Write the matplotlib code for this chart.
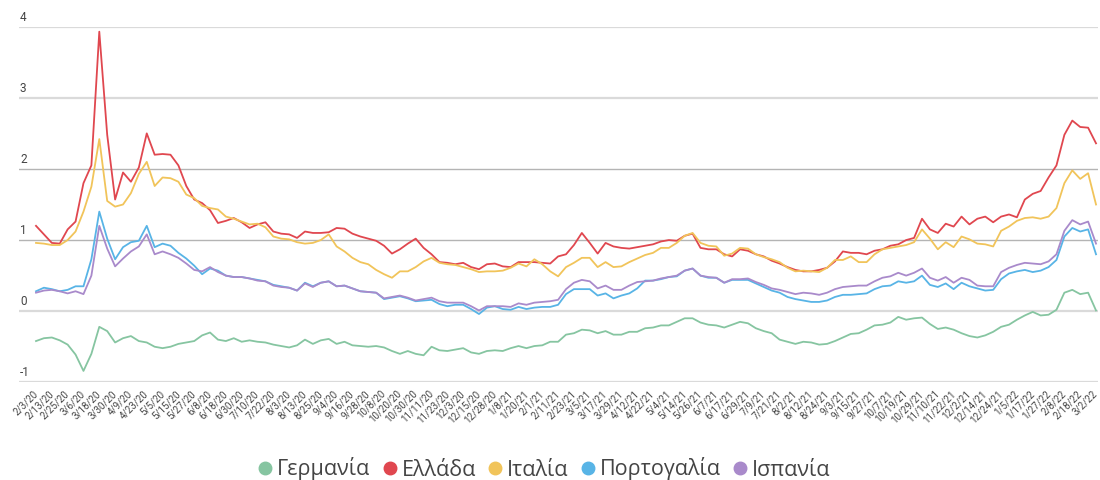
import numpy as np
import matplotlib
matplotlib.use("Agg")
import matplotlib.pyplot as plt
from matplotlib.lines import Line2D

# 10-year bond yields, one reading every 4 trading days (2/3/20 .. 3/2/22)
germany = [-0.42, -0.38, -0.37, -0.41, -0.47, -0.61, -0.84, -0.60, -0.22, -0.28,
           -0.44, -0.38, -0.35, -0.42, -0.44, -0.50, -0.52, -0.50, -0.46, -0.44,
           -0.42, -0.34, -0.30, -0.40, -0.42, -0.38, -0.43, -0.41, -0.43, -0.44,
           -0.47, -0.49, -0.51, -0.48, -0.40, -0.46, -0.41, -0.39, -0.46, -0.43,
           -0.48, -0.49, -0.50, -0.49, -0.51, -0.56, -0.60, -0.56, -0.60, -0.62,
           -0.50, -0.55, -0.56, -0.54, -0.52, -0.58, -0.60, -0.56, -0.55, -0.56,
           -0.52, -0.49, -0.52, -0.49, -0.48, -0.43, -0.43, -0.33, -0.31, -0.26,
           -0.27, -0.31, -0.28, -0.33, -0.33, -0.29, -0.29, -0.24, -0.23, -0.20,
           -0.20, -0.15, -0.10, -0.10, -0.16, -0.19, -0.20, -0.23, -0.19, -0.15,
           -0.17, -0.24, -0.28, -0.31, -0.40, -0.43, -0.46, -0.43, -0.44, -0.47,
           -0.46, -0.42, -0.37, -0.32, -0.31, -0.26, -0.20, -0.19, -0.16, -0.08,
           -0.12, -0.10, -0.09, -0.18, -0.25, -0.23, -0.26, -0.31, -0.35, -0.37,
           -0.34, -0.29, -0.22, -0.19, -0.12, -0.06, -0.01, -0.06, -0.05, 0.02,
           0.26, 0.30, 0.24, 0.26, 0.01]

greece = [1.20, 1.08, 0.96, 0.95, 1.15, 1.26, 1.80, 2.05, 3.93, 2.48,
          1.57, 1.95, 1.82, 2.02, 2.50, 2.20, 2.21, 2.20, 2.05, 1.76,
          1.57, 1.52, 1.42, 1.24, 1.27, 1.31, 1.25, 1.17, 1.22, 1.25,
          1.12, 1.09, 1.08, 1.03, 1.12, 1.10, 1.10, 1.11, 1.17, 1.16,
          1.09, 1.05, 1.02, 0.99, 0.92, 0.81, 0.87, 0.95, 1.02, 0.89,
          0.80, 0.69, 0.68, 0.66, 0.68, 0.62, 0.59, 0.66, 0.67, 0.63,
          0.62, 0.69, 0.69, 0.69, 0.68, 0.67, 0.77, 0.80, 0.93, 1.10,
          0.96, 0.81, 0.96, 0.91, 0.89, 0.88, 0.90, 0.92, 0.94, 0.98,
          1.00, 0.99, 1.06, 1.09, 0.89, 0.87, 0.87, 0.80, 0.77, 0.87,
          0.85, 0.80, 0.77, 0.71, 0.67, 0.62, 0.58, 0.56, 0.56, 0.58,
          0.61, 0.70, 0.84, 0.82, 0.82, 0.80, 0.85, 0.87, 0.92, 0.94,
          1.00, 1.03, 1.30, 1.15, 1.10, 1.23, 1.19, 1.33, 1.22, 1.30,
          1.33, 1.25, 1.33, 1.36, 1.32, 1.57, 1.65, 1.69, 1.88, 2.05,
          2.48, 2.68, 2.59, 2.58, 2.36]

italy = [0.96, 0.95, 0.93, 0.93, 1.00, 1.12, 1.40, 1.75, 2.42, 1.55,
         1.47, 1.50, 1.66, 1.93, 2.10, 1.76, 1.88, 1.87, 1.82, 1.64,
         1.59, 1.48, 1.45, 1.43, 1.33, 1.30, 1.26, 1.22, 1.23, 1.18,
         1.05, 1.02, 1.01, 0.97, 0.95, 0.96, 1.00, 1.08, 0.91, 0.84,
         0.75, 0.69, 0.66, 0.58, 0.52, 0.47, 0.56, 0.56, 0.62, 0.70,
         0.75, 0.68, 0.66, 0.65, 0.62, 0.59, 0.55, 0.56, 0.56, 0.57,
         0.61, 0.67, 0.63, 0.73, 0.66, 0.56, 0.49, 0.62, 0.68, 0.75,
         0.75, 0.62, 0.69, 0.62, 0.63, 0.69, 0.74, 0.79, 0.82, 0.89,
         0.89, 0.96, 1.06, 1.10, 0.96, 0.92, 0.91, 0.78, 0.81, 0.89,
         0.88, 0.80, 0.76, 0.73, 0.69, 0.61, 0.56, 0.57, 0.56, 0.55,
         0.61, 0.72, 0.72, 0.77, 0.69, 0.69, 0.80, 0.87, 0.89, 0.91,
         0.93, 0.97, 1.15, 1.02, 0.87, 0.97, 0.90, 1.05, 1.01, 0.95,
         0.94, 0.91, 1.13, 1.19, 1.27, 1.31, 1.32, 1.30, 1.33, 1.45,
         1.80, 1.98, 1.86, 1.94, 1.50]

portugal = [0.28, 0.33, 0.31, 0.28, 0.30, 0.35, 0.35, 0.73, 1.40, 1.02,
            0.73, 0.90, 0.97, 0.99, 1.20, 0.90, 0.95, 0.92, 0.82, 0.74,
            0.64, 0.52, 0.60, 0.57, 0.50, 0.48, 0.48, 0.46, 0.44, 0.42,
            0.37, 0.35, 0.33, 0.29, 0.40, 0.35, 0.40, 0.42, 0.35, 0.36,
            0.32, 0.28, 0.27, 0.26, 0.17, 0.19, 0.21, 0.18, 0.14, 0.15,
            0.16, 0.10, 0.07, 0.09, 0.09, 0.03, -0.04, 0.05, 0.07, 0.03,
            0.02, 0.06, 0.03, 0.05, 0.06, 0.06, 0.09, 0.24, 0.31, 0.31,
            0.31, 0.22, 0.25, 0.18, 0.22, 0.25, 0.32, 0.43, 0.43, 0.45,
            0.48, 0.49, 0.57, 0.60, 0.50, 0.47, 0.47, 0.40, 0.44, 0.44,
            0.44, 0.39, 0.34, 0.29, 0.26, 0.20, 0.17, 0.15, 0.13, 0.13,
            0.15, 0.20, 0.23, 0.23, 0.24, 0.25, 0.31, 0.35, 0.36, 0.42,
            0.40, 0.42, 0.50, 0.37, 0.34, 0.39, 0.31, 0.40, 0.35, 0.32,
            0.29, 0.30, 0.45, 0.53, 0.56, 0.58, 0.55, 0.57, 0.62, 0.72,
            1.05, 1.17, 1.12, 1.15, 0.80]

spain = [0.26, 0.29, 0.30, 0.28, 0.25, 0.28, 0.24, 0.50, 1.20, 0.88,
         0.63, 0.74, 0.84, 0.91, 1.08, 0.80, 0.84, 0.80, 0.75, 0.67,
         0.58, 0.56, 0.62, 0.55, 0.50, 0.48, 0.48, 0.46, 0.43, 0.42,
         0.36, 0.34, 0.33, 0.29, 0.39, 0.34, 0.40, 0.42, 0.35, 0.36,
         0.32, 0.28, 0.27, 0.26, 0.18, 0.20, 0.22, 0.19, 0.15, 0.17,
         0.19, 0.14, 0.12, 0.12, 0.12, 0.07, 0.01, 0.07, 0.07, 0.07,
         0.06, 0.11, 0.09, 0.12, 0.13, 0.14, 0.16, 0.31, 0.40, 0.44,
         0.42, 0.32, 0.36, 0.30, 0.30, 0.36, 0.41, 0.42, 0.43, 0.46,
         0.48, 0.50, 0.57, 0.60, 0.50, 0.48, 0.47, 0.40, 0.45, 0.45,
         0.46, 0.41, 0.37, 0.32, 0.30, 0.27, 0.24, 0.26, 0.25, 0.23,
         0.26, 0.31, 0.34, 0.35, 0.36, 0.36, 0.42, 0.47, 0.49, 0.54,
         0.50, 0.54, 0.60, 0.47, 0.43, 0.48, 0.40, 0.47, 0.44, 0.36,
         0.35, 0.35, 0.55, 0.61, 0.65, 0.68, 0.67, 0.66, 0.70, 0.80,
         1.13, 1.28, 1.22, 1.26, 0.95]

# x tick labels, one every 8 trading days
tick_labels = ['2/3/20', '2/13/20', '2/25/20', '3/6/20', '3/18/20', '3/30/20', '4/9/20',
               '4/23/20', '5/5/20', '5/15/20', '5/27/20', '6/8/20', '6/18/20', '6/30/20',
               '7/10/20', '7/22/20', '8/3/20', '8/13/20', '8/25/20', '9/4/20', '9/16/20',
               '9/28/20', '10/8/20', '10/20/20', '10/30/20', '11/11/20', '11/23/20',
               '12/3/20', '12/15/20', '12/28/20', '1/8/21', '1/20/21', '2/1/21', '2/11/21',
               '2/23/21', '3/5/21', '3/17/21', '3/29/21', '4/12/21', '4/22/21', '5/4/21',
               '5/14/21', '5/26/21', '6/7/21', '6/17/21', '6/29/21', '7/9/21', '7/21/21',
               '8/2/21', '8/12/21', '8/24/21', '9/3/21', '9/15/21', '9/27/21', '10/7/21',
               '10/19/21', '10/29/21', '11/10/21', '11/22/21', '12/2/21', '12/14/21',
               '12/24/21', '1/5/22', '1/17/22', '1/27/22', '2/8/22', '2/18/22', '3/2/22']

series_names = ['Γερμανία', 'Ελλάδα', 'Ιταλία', 'Πορτογαλία', 'Ισπανία']
series_colors = ['#86c5a1', '#e0474f', '#f1c45a', '#58b4e6', '#a98acb']
y_ticks = [-1, 0, 1, 2, 3, 4]

plt.rcParams['font.family'] = ['Roboto', 'DejaVu Sans']

fig = plt.figure(figsize=(11, 4.8), dpi=100)
ax = fig.add_axes([19 / 1100, (480 - 382.3) / 480, 1079 / 1100, 355.6 / 480])

x = np.arange(0, 537, 4)
all_series = [germany, greece, italy, portugal, spain]

# gridlines (1 and 2 are drawn darker in the original)
for v in y_ticks:
    if v in (1, 2):
        ax.axhline(v, color='#b4b4b4', lw=1.0, zorder=1)
    else:
        ax.axhline(v, color='#dadada', lw=1.6, zorder=1)
    ax.annotate(str(v), xy=(0, v), xycoords=('axes fraction', 'data'),
                xytext=(1, 3), textcoords='offset pixels',
                ha='left', va='bottom', fontsize=8.5, color='#444444')

for vals, c in zip(all_series, series_colors):
    ax.plot(x, vals, color=c, lw=1.3, zorder=3, solid_joinstyle='round')

ax.set_xlim(-8.6, 537.0)
ax.set_ylim(-1, 4)
ax.set_yticks([])
ax.set_xticks(np.arange(0, 537, 8))
ax.set_xticklabels(tick_labels, rotation=45, ha='right', va='center',
                   rotation_mode='anchor', fontsize=7, color='#444444')
ax.tick_params(axis='x', length=0, pad=7)
for s in ax.spines.values():
    s.set_visible(False)

handles = [Line2D([], [], marker='o', linestyle='none', markersize=9,
                  markerfacecolor=c, markeredgecolor=c) for c in series_colors]
leg = fig.legend(handles, series_names, loc='center', ncol=5,
                 bbox_to_anchor=(543 / 1100, 1 - 469 / 480), frameon=False,
                 handletextpad=0.1, columnspacing=0.45, handlelength=0.9,
                 prop={'family': ['Open Sans', 'DejaVu Sans'], 'size': 15.5})
for t in leg.get_texts():
    t.set_color('#444444')

fig.savefig('out.png', dpi=100)
